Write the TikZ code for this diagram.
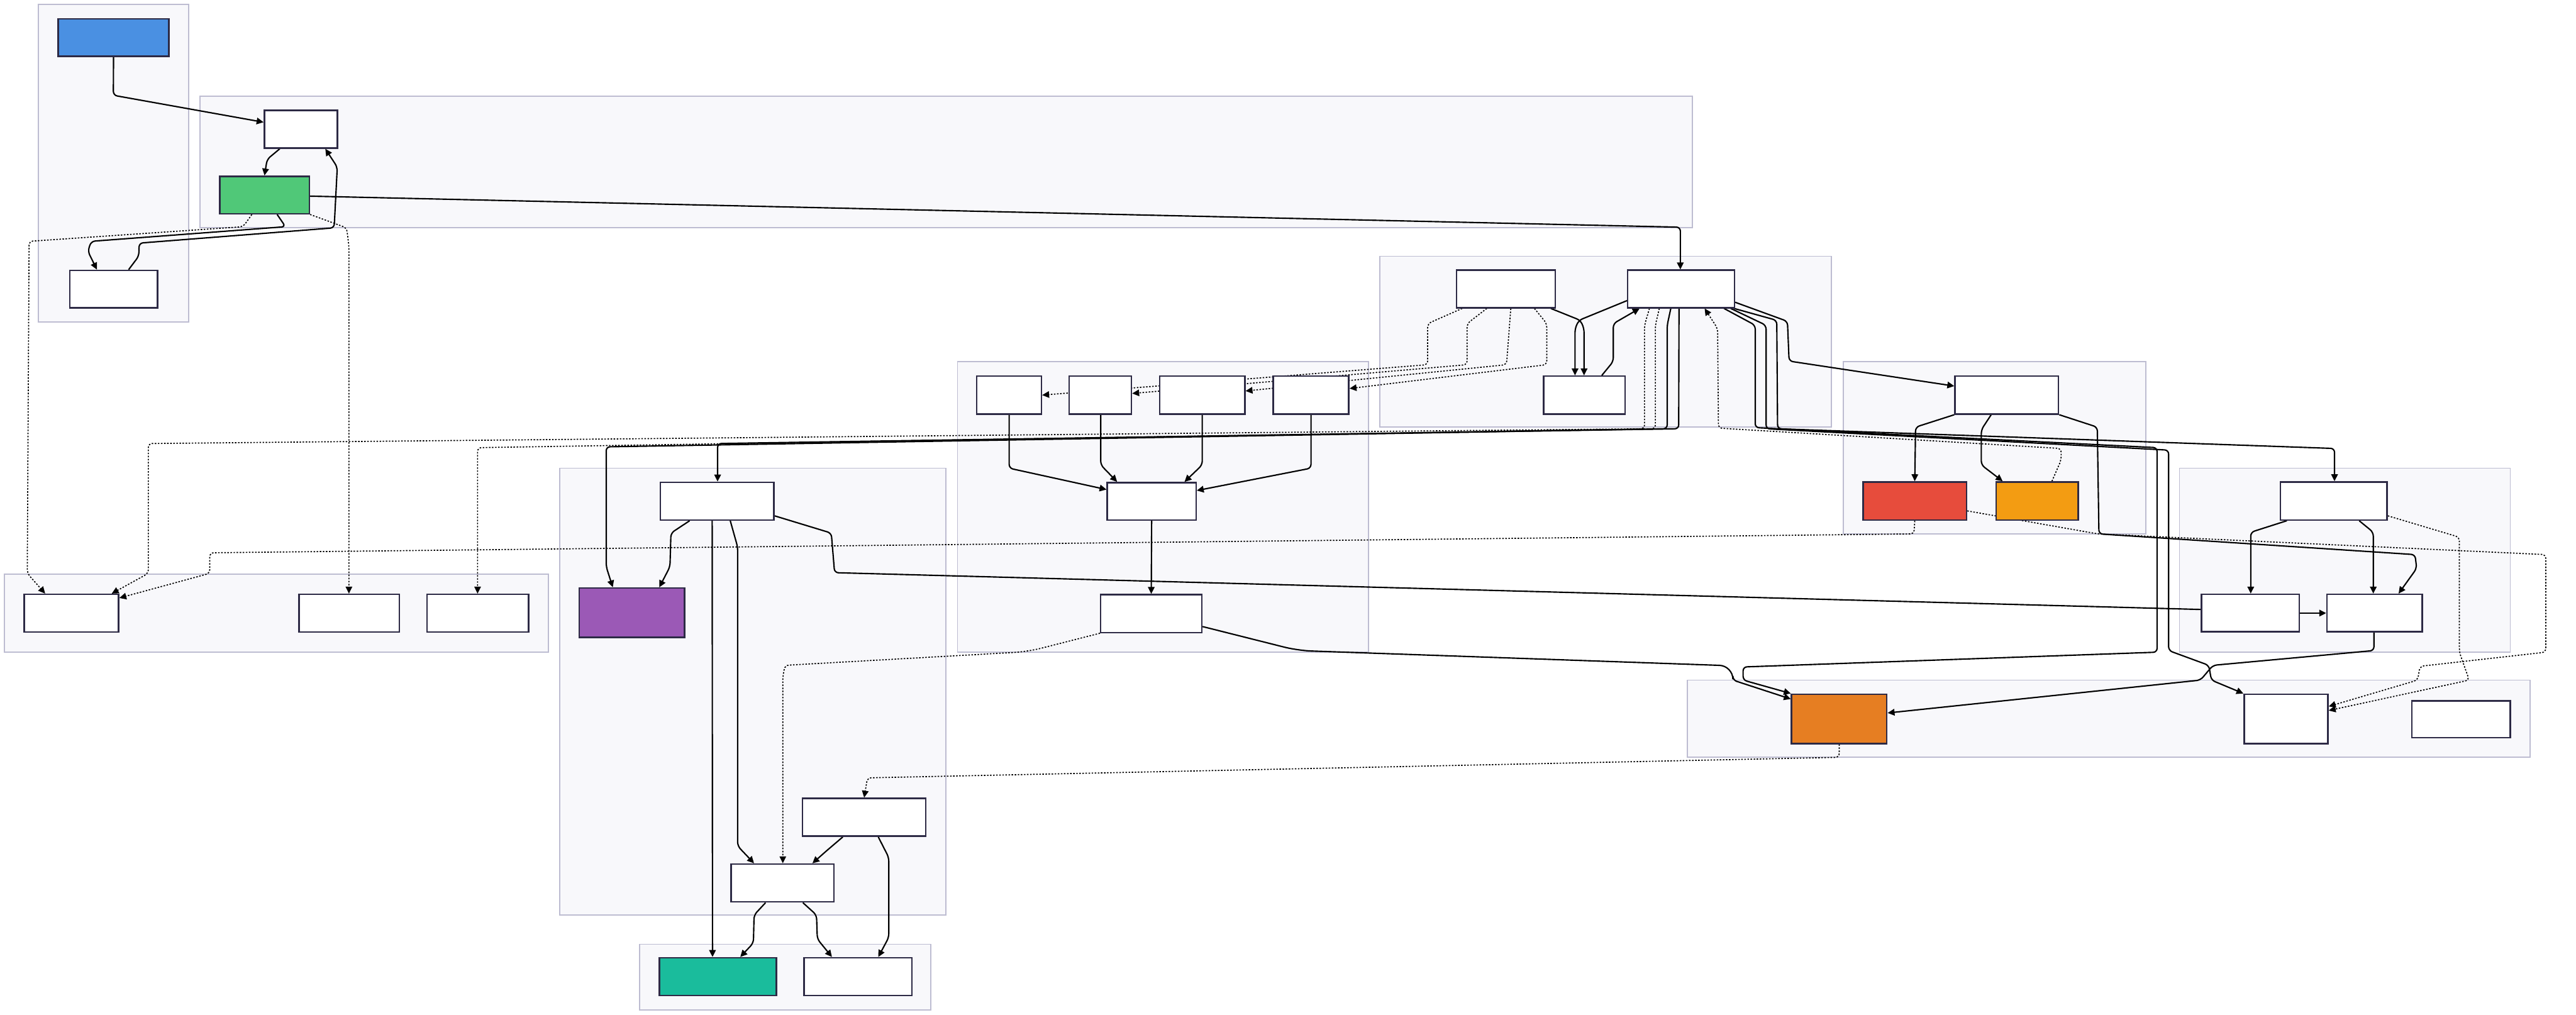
\documentclass[tikz,border=0pt]{standalone}
\usetikzlibrary{arrows.meta}
\definecolor{nblue}{HTML}{4A90E2}
\definecolor{ngreen}{HTML}{50C878}
\definecolor{nred}{HTML}{E74C3C}
\definecolor{namber}{HTML}{F39C12}
\definecolor{norange}{HTML}{E67E22}
\definecolor{npurple}{HTML}{9B59B6}
\definecolor{nteal}{HTML}{1ABC9C}
\definecolor{nodeline}{HTML}{2D2A45}
\definecolor{clusterbg}{HTML}{F8F8FB}
\definecolor{clusterline}{HTML}{BDBCD1}
\pgfdeclarelayer{bg}\pgfdeclarelayer{edges}\pgfsetlayers{bg,edges,main}
\begin{document}
\begin{tikzpicture}[x=0.03cm,y=-0.03cm,
 gbox/.style={draw=nodeline,line width=0.8pt,inner sep=0pt,rectangle},
 cluster/.style={fill=clusterbg,draw=clusterline,line width=0.6pt},
 flow/.style={black,line width=0.7pt,rounded corners=2pt,-{Triangle[length=3.6pt,width=3.4pt]}},
 link/.style={black,line width=0.7pt,rounded corners=2pt},
 dep/.style={black,line width=0.55pt,dash pattern=on 0.8pt off 0.8pt,rounded corners=2pt,-{Triangle[length=3.6pt,width=3.4pt]}}]
\useasboundingbox (0,0) rectangle (1568,617.6);
% groups
\begin{pgfonlayer}{bg}
\foreach \xa/\ya/\xb/\yb in {23.4/2.6/114.8/196,121.6/58.6/1030/138.7,840/156/1114.7/260,582.8/220/833/397,
 1122/220/1306/325,1326.6/285/1528/397,1027/414/1540/461,340.6/285/575.6/557,389.2/574.8/566.6/614.8,2.7/349.6/333.7/397}
 \draw[cluster] (\xa,\ya) rectangle (\xb,\yb);
\end{pgfonlayer}
% boxes
\foreach \nm/\xa/\ya/\xb/\yb/\col in {src/35.4/11.4/102.8/34.2/nblue,ba/160.9/67.2/205.4/90.1/white,core/133.8/107.3/188.3/130.1/ngreen,
 aux/42.4/164.6/95.9/187.3/white,c1/886.6/164.5/946.7/187.3/white,hub/990.8/164.5/1055.7/187.3/white,c3/939.6/229/989.2/252/white,
 d1/594.6/229/633.9/252/white,d2/650.8/229/688.7/252/white,d3/706/229/757.7/252/white,d4/775/229/821/252/white,
 d5/674/293.8/728/316.5/white,d6/670/362/731.5/385/white,
 e1/1190/229/1253/252/white,e2/1134/293.4/1197/316.5/nred,e3/1215/293.4/1265/316.5/namber,
 f1/1388/293.4/1453/316.5/white,f2/1340/361.8/1399.6/384.6/white,f3/1416.4/361.8/1474.4/384.6/white,
 g1/1090.5/422.6/1148.5/452.6/norange,g2/1366/422.6/1417/452.6/white,g3/1468/426.7/1528/449/white,
 h1/402/293.6/471/316.5/white,h2/352.5/358/416.6/388/npurple,h3/488.5/486/563.5/509/white,h4/445/526/507.6/549/white,
 i1/401.4/583/472.5/606/nteal,i2/489.5/583/555/606/white,
 j1/14.7/361.8/72.2/384.8/white,j2/182/361.8/243/384.8/white,j3/260/361.8/321.7/384.8/white}
 \node[gbox,fill=\col,minimum width={(\xb-\xa)*0.3mm},minimum height={(\yb-\ya)*0.3mm}] (\nm) at ({(\xa+\xb)/2},{(\ya+\yb)/2}) {};
% connectors
\begin{pgfonlayer}{edges}
\draw[flow] (src.south) -- (69,58) -- (ba.west |- 0,74.4);
\draw[flow] (ba.south -| 170.3,0) -- (162.6,97) -- (core.north -| 161,0);
\draw[flow] (core.east |- 0,119.4) -- (1022.8,138.3) -- (hub.north -| 1022.8,0);
\draw[flow] (core.south -| 168.7,0) -- (173.8,138) -- (55.5,146.9) -- (53.5,153) -- (aux.north -| 59,0);
\draw[flow] (aux.north -| 78.3,0) -- (84.5,155.9) -- (84.7,148) -- (203.4,138.7) -- (205.3,101.7) -- (ba.south -| 198,0);
\draw[dep] (core.south -| 153.3,0) -- (148,138) -- (17.7,146.9) -- (16.6,349) -- (j1.north -| 27.5,0);
\draw[dep] (core.south east) -- (211,138.7) -- (212.4,150) -- (j2.north -| 212.4,0);
% hub fan-out
\draw[dep] (hub.south -| 1004,0) -- (1001,198) -- (1001,261) -- (90.3,270) -- (90.3,349) -- (j1.north -| 68,0);
\draw[dep] (hub.south -| 1010,0) -- (1007.6,198) -- (1007.6,261) -- (290.7,272.5) -- (j3.north -| 290.7,0);
\draw[flow] (hub.south -| 1017,0) -- (1014.8,198) -- (1014.8,261) -- (369,272) -- (369,345) -- (h2.north -| 373,0);
\draw[flow] (hub.south -| 1022,0) -- (1021.8,261) -- (436.8,270) -- (h1.north -| 436.8,0);
\draw[dep] (e3.north -| 1249,0) -- (1254.6,280) -- (1254.6,273) -- (1046,260.6) -- (1045.5,200) -- (hub.south -| 1037.6,0);
\draw[flow] (hub.south -| 1049.4,0) -- (1068.4,198) -- (1068.4,260.3) -- (1313,272.5) -- (1313,397) -- (1061,406) -- (1061,414) -- (g1.north west);
\draw[flow] (hub.south -| 1053.5,0) -- (1075,198) -- (1075,261) -- (1320,274) -- (1320,396) -- (1344.5,405) -- (1346,414) -- (g2.north west);
\draw[flow] (hub.south -| 1055.5,0) -- (1081.5,195) -- (1082,261) -- (1421,273) -- (f1.north -| 1421,0);
\draw[flow] (hub.east |- 0,184) -- (1088,195.6) -- (1089,219.8) -- (e1.west |- 0,235);
\draw[flow] (c1.south -| 944,0) -- (962,195) -- (964.2,200) -- (c3.north -| 964.2,0);
\draw[flow] (hub.west |- 0,183) -- (961,195) -- (958.7,200) -- (c3.north -| 958.7,0);
\draw[flow] (c3.north -| 975,0) -- (982,220) -- (982,197) -- (hub.south -| 998,0);
% c1 to the d row
\draw[dep] (c1.south -| 890,0) -- (869,197) -- (869,222) -- (d1.east |- 0,240.5);
\draw[dep] (c1.south -| 905,0) -- (893,197) -- (893,222) -- (d2.east |- 0,239.5);
\draw[dep] (c1.south -| 919.6,0) -- (917,222) -- (d3.east |- 0,238);
\draw[dep] (c1.south -| 934,0) -- (941.5,197) -- (941.5,222) -- (d4.east |- 0,236.5);
\draw[flow] (d1.south) -- (614.25,285) -- (d5.west |- 0,298);
\draw[flow] (d2.south -| 670,0) -- (670,283) -- (d5.north -| 680,0);
\draw[flow] (d3.south -| 731.8,0) -- (731.8,283) -- (d5.north -| 721,0);
\draw[flow] (d4.south -| 798,0) -- (798,285) -- (d5.east |- 0,298.6);
\draw[flow] (d5.south) -- (d6.north);
\draw[flow,rounded corners=7pt] (d6.east |- 0,381.4) -- (790,396) -- (1054.8,405.3) [rounded corners=2pt] -- (1054.8,414) -- (g1.west |- 0,425.5);
\draw[dep,rounded corners=7pt] (d6.south west) -- (625.5,396.7) [rounded corners=2pt] -- (477.8,405) -- (476.5,412) -- (h4.north -| 476.5,0);
\draw[dep] (g1.south -| 1119.5,0) -- (1119.5,461) -- (528,473.5) -- (h3.north -| 526,0);
% h group
\draw[flow] (h1.south -| 419.8,0) -- (408.4,324.5) -- (407.8,345) -- (h2.north -| 401.3,0);
\draw[flow] (h1.south -| 433.5,0) -- (i1.north -| 433.7,0);
\draw[flow] (h1.south -| 444.5,0) -- (449,333) -- (449,515) -- (h4.north -| 459,0);
\draw[link] (h1.east |- 0,314) -- (506,324.5) -- (508,348.6) -- (f2.west |- 0,371);
\draw[flow] (h3.south -| 513,0) -- (503,518) -- (h4.north -| 494.5,0);
\draw[flow] (h3.south -| 534.6,0) -- (541,522) -- (541,570.6) -- (i2.north -| 534.6,0);
\draw[flow] (h4.south -| 466,0) -- (459,557) -- (458.6,574) -- (i1.north -| 450.6,0);
\draw[flow] (h4.south -| 488.7,0) -- (497,557) -- (497.5,571.6) -- (i2.north -| 506.4,0);
% e and f groups
\draw[flow] (e1.south west) -- (1166,260) -- (e2.north -| 1165.5,0);
\draw[flow] (e1.south -| 1212,0) -- (1206,261.6) -- (1206,283) -- (e3.north -| 1219,0);
\draw[flow] (e1.south east) -- (1276.6,260) -- (1277.6,325) -- (1470,337.6) -- (1471,346) -- (f3.north -| 1460,0);
\draw[dep] (e2.south -| 1165.5,0) -- (1165,325) -- (127.7,336.5) -- (127.7,349) -- (j1.east |- 0,364);
\draw[dep] (e2.east |- 0,311) -- (1277,325) -- (1549.6,337.6) -- (1549.6,397) -- (1473,405.6) -- (1471.6,414) -- (g2.east |- 0,430);
\draw[dep] (f1.east |- 0,314) -- (1497,327) -- (1497,397) -- (1503,414) -- (g2.east |- 0,432.5);
\draw[flow] (f1.south -| 1392,0) -- (1370,324) -- (f2.north -| 1370,0);
\draw[flow] (f1.south -| 1436,0) -- (1444.6,324) -- (f3.north -| 1444.6,0);
\draw[flow] (f2.east) -- (f3.west);
\draw[flow] (f3.south -| 1445,0) -- (1445,396) -- (1347,405) -- (1339.4,414) -- (g1.east |- 0,434);
\end{pgfonlayer}
\end{tikzpicture}
\end{document}
